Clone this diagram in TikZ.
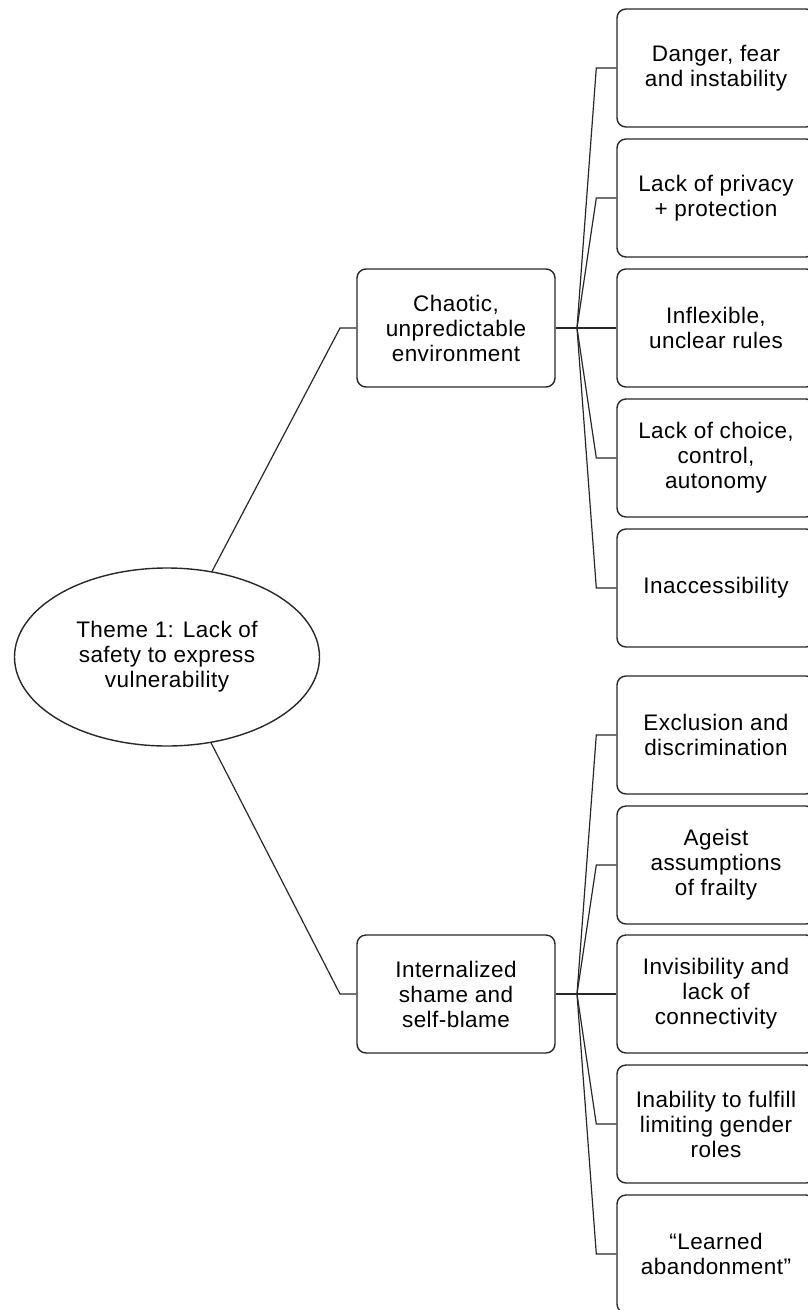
\documentclass[tikz,border=0pt]{standalone}
\usepackage{fontspec}
\setmainfont{Liberation Sans}[LetterSpace=2]
\usetikzlibrary{shapes}
\usetikzlibrary{positioning}
\usetikzlibrary{calc}
\definecolor{edge}{RGB}{40,40,40}

\begin{document}
\begin{tikzpicture}[x=1pt, y=-1pt,
  topic/.style={draw=edge, line width=1.4pt, rounded corners=9pt, fill=white, align=center,
    minimum width=198pt, minimum height=118pt, inner sep=2pt, font=\fontsize{22.5}{25}\selectfont},
  theme/.style={ellipse, draw=edge, line width=1.4pt, fill=white, align=center,
    minimum width=305pt, minimum height=178pt, inner sep=0pt, font=\fontsize{22.5}{25}\selectfont},
  link/.style={draw=edge, line width=1.2pt}]

\useasboundingbox (0,0) rectangle (807,1310);

% main theme
\node [theme] (theme) at (167,657) {Theme 1: Lack of\\safety to express\\vulnerability};

% sub-themes
\node [topic] (chaotic) at (456,328) {Chaotic,\\unpredictable\\environment};
\node [topic] (shame) at (456,994) {Internalized\\shame and\\self-blame};

% codes of the first sub-theme
\node [topic] (danger) at (716,68) {Danger, fear\\and instability};
\node [topic] (privacy) at (716,198) {Lack of privacy\\+ protection};
\node [topic] (rules) at (716,328) {Inflexible,\\unclear rules};
\node [topic] (choice) at (716,458) {Lack of choice,\\control,\\autonomy};
\node [topic] (access) at (716,588) {Inaccessibility};

% codes of the second sub-theme
\node [topic] (exclusion) at (716,735) {Exclusion and\\discrimination};
\node [topic] (ageist) at (716,865) {Ageist\\assumptions\\of frailty};
\node [topic] (invisible) at (716,994) {Invisibility and\\lack of\\connectivity};
\node [topic] (gender) at (716,1124) {Inability to fulfill\\limiting gender\\roles};
\node [topic] (abandon) at (716,1254) {“Learned\\abandonment"};

\coordinate (bendA) at (340,328);
\coordinate (bendB) at (340,994);
\coordinate (forkA) at (577,328);
\coordinate (forkB) at (577,994);

\draw [link] (theme) -- (bendA) -- (chaotic.west);
\draw [link] (theme) -- (bendB) -- (shame.west);

\draw [link] (chaotic.east) -- (forkA);
\draw [link] (forkA) -- ($(danger.west)+(-20,0)$) -- (danger.west);
\draw [link] (forkA) -- ($(privacy.west)+(-20,0)$) -- (privacy.west);
\draw [link] (forkA) -- (rules.west);
\draw [link] (forkA) -- ($(choice.west)+(-20,0)$) -- (choice.west);
\draw [link] (forkA) -- ($(access.west)+(-20,0)$) -- (access.west);

\draw [link] (shame.east) -- (forkB);
\draw [link] (forkB) -- ($(exclusion.west)+(-20,0)$) -- (exclusion.west);
\draw [link] (forkB) -- ($(ageist.west)+(-20,0)$) -- (ageist.west);
\draw [link] (forkB) -- (invisible.west);
\draw [link] (forkB) -- ($(gender.west)+(-20,0)$) -- (gender.west);
\draw [link] (forkB) -- ($(abandon.west)+(-20,0)$) -- (abandon.west);

\end{tikzpicture}
\end{document}
